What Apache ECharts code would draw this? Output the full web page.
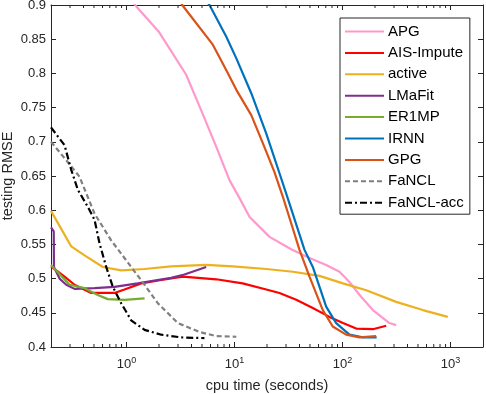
<!DOCTYPE html>
<html>
<head>
<meta charset="utf-8">
<script src="https://cdn.jsdelivr.net/npm/echarts@6/dist/echarts.min.js"></script>
<style>
html, body { margin: 0; padding: 0; background: #fff; }
#chart { width: 486px; height: 394px; }
</style>
</head>
<body>
<div id="chart"></div>
<script>
// axis ticks
var yTicks = [0.4, 0.45, 0.5, 0.55, 0.6, 0.65, 0.7, 0.75, 0.8, 0.85, 0.9];
var xMajorTicks = [1, 10, 100, 1000];
var xMinorTicks = [0.3, 0.4, 0.5, 0.6, 0.7, 0.8, 0.9,
    2, 3, 4, 5, 6, 7, 8, 9,
    20, 30, 40, 50, 60, 70, 80, 90,
    200, 300, 400, 500, 600, 700, 800, 900];

// cpu time (s) / testing RMSE
var apgTime = [1.0, 1.2, 1.99, 3.57, 4.92, 6.77, 8.99, 11.1, 13.8, 21.1, 33.5, 49.5, 70.6, 93.8, 116, 144, 191, 272, 314];
var apgRmse = [0.935, 0.9, 0.861, 0.798, 0.746, 0.693, 0.644, 0.618, 0.590, 0.561, 0.543, 0.530, 0.520, 0.510, 0.495, 0.476, 0.454, 0.435, 0.432];

var aisTime = [0.2, 0.267, 0.330, 0.471, 0.604, 0.774, 0.958, 1.37, 2.10, 3.32, 6.77, 11.9, 19.7, 26.1, 37.3, 53.1, 75.8, 101, 134, 191, 254];
var aisRmse = [0.518, 0.503, 0.491, 0.479, 0.479, 0.479, 0.484, 0.493, 0.498, 0.503, 0.499, 0.493, 0.484, 0.479, 0.469, 0.457, 0.444, 0.435, 0.427, 0.426, 0.431];

var activeTime = [0.2, 0.308, 0.409, 0.604, 0.893, 1.47, 2.59, 5.47, 9.64, 19.7, 34.7, 61.2, 101, 166, 314, 554, 944];
var activeRmse = [0.599, 0.547, 0.534, 0.517, 0.512, 0.514, 0.518, 0.520, 0.518, 0.514, 0.510, 0.504, 0.493, 0.483, 0.466, 0.454, 0.444];

var lmafitTime = [0.2, 0.212, 0.213, 0.240, 0.277, 0.330, 0.506, 0.774, 1.27, 2.59, 3.44, 5.47];
var lmafitRmse = [0.575, 0.569, 0.517, 0.500, 0.491, 0.485, 0.486, 0.488, 0.493, 0.501, 0.506, 0.517];

var er1mpTime = [0.2, 0.297, 0.409, 0.542, 0.671, 0.958, 1.47];
var er1mpRmse = [0.520, 0.491, 0.486, 0.476, 0.470, 0.469, 0.471];

var irnnTime = [5.27, 5.87, 8.38, 10.4, 14.3, 19.7, 26.1, 31.2, 44.5, 53.1, 70.6, 87.4, 116, 154, 207];
var irnnRmse = [0.91, 0.9, 0.854, 0.822, 0.771, 0.712, 0.654, 0.617, 0.542, 0.517, 0.459, 0.435, 0.418, 0.414, 0.414];

var gpgTime = [2.78, 3.28, 6.30, 8.38, 10.4, 14.3, 18.3, 23.4, 28.0, 40.0, 49.5, 65.7, 81.3, 108, 144, 205];
var gpgRmse = [0.92, 0.9, 0.842, 0.805, 0.776, 0.739, 0.698, 0.656, 0.620, 0.542, 0.503, 0.454, 0.430, 0.418, 0.414, 0.416];

var fanclTime = [0.2, 0.277, 0.367, 0.506, 0.721, 1.105, 1.47, 1.95, 2.99, 4.74, 6.77, 10.4];
var fanclRmse = [0.700, 0.673, 0.649, 0.595, 0.556, 0.517, 0.491, 0.464, 0.435, 0.422, 0.416, 0.415];

var fanclAccTime = [0.2, 0.267, 0.308, 0.354, 0.438, 0.506, 0.562, 0.649, 0.747, 0.893, 1.105, 1.47, 2.10, 3.21, 5.27];
var fanclAccRmse = [0.721, 0.695, 0.659, 0.630, 0.605, 0.586, 0.552, 0.517, 0.488, 0.464, 0.439, 0.425, 0.418, 0.414, 0.413];

var axisColor = '#262626';
var fontFamily = '"Liberation Sans", Arial, sans-serif';

function pairs(t, v) {
    return t.map(function(x, i) { return [x, v[i]]; });
}

function line(name, t, v, color, dash) {
    return {
        name: name,
        type: 'line',
        data: pairs(t, v),
        symbol: 'none',
        smooth: false,
        clip: true,
        lineStyle: { color: color, width: 2.2, type: dash || 'solid' },
        itemStyle: { color: color },
        emphasis: { disabled: true },
        z: 3
    };
}

function xLabel(v) {
    for (var i = 0; i < xMajorTicks.length; i++) {
        if (Math.abs(v - xMajorTicks[i]) < 1e-6 * xMajorTicks[i]) {
            return '{b|10}{s|' + Math.round(Math.log10(v)) + '}';
        }
    }
    return '';
}

var chart = echarts.init(document.getElementById('chart'));

var option = {
    animation: false,
    backgroundColor: '#fff',
    textStyle: { fontFamily: fontFamily },
    grid: { left: 51, right: 3, top: 5, bottom: 47, containLabel: false, outerBoundsMode: 'none' },
    legend: {
        orient: 'vertical',
        left: 340,
        top: 18,
        width: 132,
        padding: [6, 6, 4, 4],
        itemWidth: 39,
        itemHeight: 14,
        itemGap: 6.4,
        borderColor: axisColor,
        borderWidth: 1,
        backgroundColor: '#fff',
        itemStyle: { color: 'rgba(0,0,0,0)', borderColor: 'rgba(0,0,0,0)', borderWidth: 0 },
        textStyle: { fontSize: 15, color: '#000', fontFamily: fontFamily, padding: [0, 0, 0, -1] },
        data: ['APG', 'AIS-Impute', 'active', 'LMaFit', 'ER1MP', 'IRNN', 'GPG', 'FaNCL', 'FaNCL-acc']
    },
    xAxis: [{
        type: 'log',
        logBase: 10,
        min: 0.2,
        max: 2000,
        name: 'cpu time (seconds)',
        nameLocation: 'middle',
        nameGap: 31,
        nameMoveOverlap: false,
        nameTextStyle: { fontSize: 14.5, color: axisColor },
        axisLine: { show: true, lineStyle: { color: axisColor, width: 1 } },
        axisTick: { show: true, inside: true, length: 5, lineStyle: { color: axisColor } },
        axisLabel: {
            formatter: xLabel,
            margin: 9,
            color: axisColor,
            rich: {
                b: { fontSize: 13, color: axisColor, fontFamily: fontFamily },
                s: { fontSize: 9, color: axisColor, fontFamily: fontFamily, padding: [0, 0, 8, 0] }
            }
        },
        splitLine: { show: false }
    }, {
        type: 'log',
        logBase: 10,
        min: 0.2,
        max: 2000,
        position: 'top',
        axisLine: { show: true, lineStyle: { color: axisColor, width: 1 } },
        axisTick: { show: true, inside: true, length: 5, lineStyle: { color: axisColor } },
        axisLabel: { show: false },
        splitLine: { show: false }
    }],
    yAxis: [{
        type: 'value',
        min: 0.4,
        max: 0.9,
        interval: 0.05,
        name: 'testing RMSE',
        nameLocation: 'middle',
        nameGap: 36,
        nameMoveOverlap: false,
        nameTextStyle: { fontSize: 14.5, color: axisColor },
        axisLine: { show: true, lineStyle: { color: axisColor, width: 1 } },
        axisTick: { show: true, inside: true, length: 5, lineStyle: { color: axisColor } },
        axisLabel: { fontSize: 13, color: axisColor, margin: 5 },
        splitLine: { show: false }
    }, {
        type: 'value',
        min: 0.4,
        max: 0.9,
        interval: 0.05,
        position: 'right',
        axisLine: { show: true, lineStyle: { color: axisColor, width: 1 } },
        axisTick: { show: true, inside: true, length: 5, lineStyle: { color: axisColor } },
        axisLabel: { show: false },
        splitLine: { show: false }
    }],
    series: [
        line('APG', apgTime, apgRmse, '#ff99cc'),
        line('AIS-Impute', aisTime, aisRmse, '#ff0000'),
        line('active', activeTime, activeRmse, '#edb120'),
        line('LMaFit', lmafitTime, lmafitRmse, '#7e2f8e'),
        line('ER1MP', er1mpTime, er1mpRmse, '#77ac30'),
        line('IRNN', irnnTime, irnnRmse, '#0072bd'),
        line('GPG', gpgTime, gpgRmse, '#d95319'),
        line('FaNCL', fanclTime, fanclRmse, '#808080', [5, 3]),
        line('FaNCL-acc', fanclAccTime, fanclAccRmse, '#000000', [7, 3, 2, 3]),
        {
            // minor ticks of the log axis, bottom and top
            name: 'minorTicks',
            type: 'custom',
            silent: true,
            clip: false,
            z: 4,
            data: xMinorTicks.map(function(t) { return [t, 0.4]; }),
            renderItem: function(params, api) {
                var b = api.coord([api.value(0), 0.4]);
                var t = api.coord([api.value(0), 0.9]);
                var st = { stroke: axisColor, lineWidth: 1 };
                return {
                    type: 'group',
                    children: [
                        { type: 'line', shape: { x1: b[0], y1: b[1], x2: b[0], y2: b[1] - 3 }, style: st },
                        { type: 'line', shape: { x1: t[0], y1: t[1], x2: t[0], y2: t[1] + 3 }, style: st }
                    ]
                };
            }
        }
    ]
};

chart.setOption(option);
</script>
</body>
</html>
